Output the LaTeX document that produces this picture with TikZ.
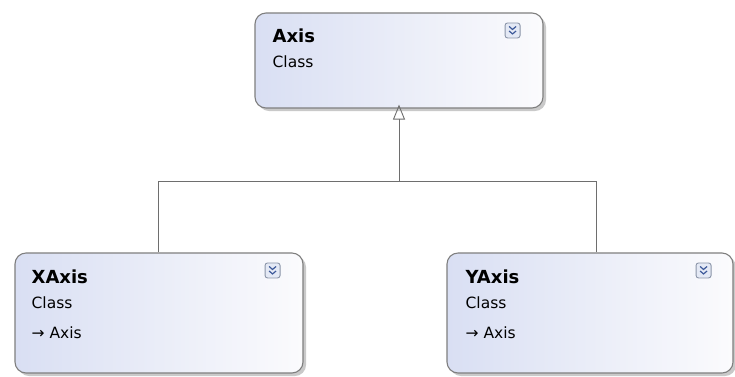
\documentclass[tikz,border=0pt]{standalone}
\usepackage{fontspec}
\setmainfont{DejaVu Sans}
\usetikzlibrary{arrows.meta,calc,shadows}
\definecolor{boxline}{HTML}{7F7F7F}
\definecolor{boxleft}{HTML}{D9DFF3}
\definecolor{boxright}{HTML}{FBFBFD}
\definecolor{edgecol}{HTML}{6E6E6E}
\definecolor{iconline}{HTML}{8A94A8}
\definecolor{iconfill}{HTML}{E4E9F5}
\definecolor{chev}{HTML}{3E5A9A}
\tikzset{
  classbox/.style={draw=boxline, line width=1.1pt, rounded corners=11pt,
    left color=boxleft, right color=boxright, shading angle=90,
    drop shadow={shadow xshift=3pt, shadow yshift=-3pt, fill=black!35, opacity=0.6},
    inner sep=0pt},
  titletext/.style={font=\fontsize{18}{18}\selectfont\bfseries, anchor=base west, inner sep=0pt},
  kindtext/.style={font=\fontsize{15.5}{15.5}\selectfont, anchor=base west, inner sep=0pt},
  iconbox/.style={draw=iconline, line width=0.9pt, rounded corners=2.5pt, fill=iconfill,
    minimum width=15pt, minimum height=15pt, inner sep=0pt},
  chevron/.style={draw=chev, line width=1.2pt},
  inherit/.style={draw=edgecol, line width=0.9pt},
}
\begin{document}
\begin{tikzpicture}[x=1pt, y=-1pt]
\useasboundingbox (0,0) rectangle (735,376);
\fill[white] (0,0) rectangle (735,376);

% boxes
\node[classbox, minimum width=288pt, minimum height=95pt] (axis) at (399,60.5) {};
\node[classbox, minimum width=288pt, minimum height=120pt] (xaxis) at (159,313) {};
\node[classbox, minimum width=286pt, minimum height=120pt] (yaxis) at (590,313) {};

% texts
\node[titletext] (axisT) at ($(axis.north west)+(18,30)$) {Axis};
\node[kindtext] (axisK) at ($(axis.north west)+(18,55)$) {Class};

\node[titletext] (xaxisT) at ($(xaxis.north west)+(17,31)$) {XAxis};
\node[kindtext] (xaxisK) at ($(xaxis.north west)+(17,56)$) {Class};
\node[kindtext] (xaxisB) at ($(xaxis.north west)+(17,86)$) {→ Axis};

\node[titletext] (yaxisT) at ($(yaxis.north west)+(19,31)$) {YAxis};
\node[kindtext] (yaxisK) at ($(yaxis.north west)+(19,56)$) {Class};
\node[kindtext] (yaxisB) at ($(yaxis.north west)+(19,86)$) {→ Axis};

% expand icons
\foreach \b/\ix in {axis/-31, xaxis/-31, yaxis/-30} {
  \node[iconbox] (\b I) at ($(\b.north east)+(\ix,18)$) {};
  \draw[chevron] ($(\b I.center)+(-3.5,-4)$) -- ($(\b I.center)+(0,-1)$) -- ($(\b I.center)+(3.5,-4)$);
  \draw[chevron] ($(\b I.center)+(-3.5,0.5)$) -- ($(\b I.center)+(0,3.5)$) -- ($(\b I.center)+(3.5,0.5)$);
}

% inheritance connectors
\coordinate (j) at (399,181);
\draw[inherit] ([xshift=-1pt]xaxis.north) |- (j);
\draw[inherit] ([xshift=6pt]yaxis.north) |- (j);
\draw[inherit, -{Triangle[open, length=15pt, width=12pt, line width=0.9pt]}] (j) -- ([yshift=4pt]axis.south);
\end{tikzpicture}
\end{document}
